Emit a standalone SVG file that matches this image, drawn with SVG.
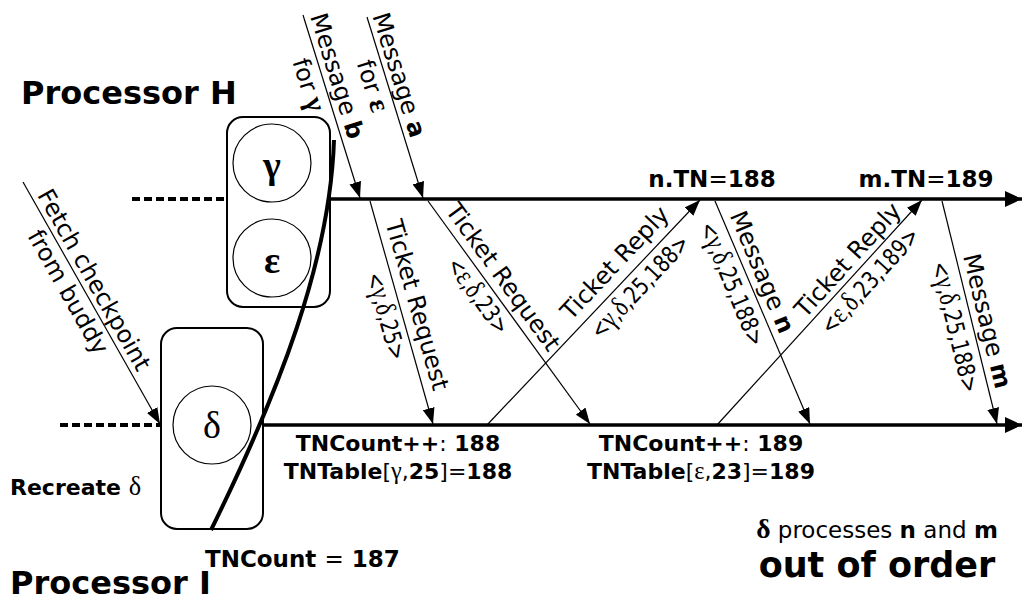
<svg xmlns="http://www.w3.org/2000/svg" width="1026" height="603" viewBox="0 0 1026 603">
<style>
  .box{fill:#fff;stroke:#000;stroke-width:2}
  .circ{fill:none;stroke:#000;stroke-width:1.2}
  .tl{stroke:#000;stroke-width:3.5;fill:none}
  .dash{stroke:#000;stroke-width:4;stroke-dasharray:8 4;fill:none}
  .thin{stroke:#000;stroke-width:1.2;fill:none;marker-end:url(#ah)}
  .curve{stroke:#000;stroke-width:4;fill:none}
  .sans{font-family:"DejaVu Sans","Liberation Sans",sans-serif;fill:#000}
  .b{font-weight:bold}
  .n{font-weight:normal}
  .gr{font-family:"Liberation Serif","DejaVu Serif",serif;font-size:1.2em}
  .gs{font-family:"Liberation Serif","DejaVu Serif",serif;font-size:1.1em;font-weight:normal}
  .lbl{font-family:"DejaVu Sans","Liberation Sans",sans-serif;font-size:24px;text-anchor:middle;fill:#000}
  .tup{font-family:"DejaVu Sans","Liberation Sans",sans-serif;font-size:24px;text-anchor:middle;fill:#000}
  .big{font-family:"Liberation Serif","DejaVu Serif",serif;font-size:38px;text-anchor:middle;fill:#000}
</style>
<defs>
  <marker id="ah" markerUnits="userSpaceOnUse" markerWidth="17" markerHeight="12" refX="16" refY="6" orient="auto">
    <path d="M0,0 L16,6 L0,12 z" fill="#000"/>
  </marker>
  <marker id="ahb" markerUnits="userSpaceOnUse" markerWidth="18" markerHeight="16" refX="17" refY="8" orient="auto">
    <path d="M0,0 L17,8 L0,16 z" fill="#000"/>
  </marker>
</defs>

<g id="timelines">
  <line class="dash" x1="132" y1="199" x2="227" y2="199"/>
  <line class="tl" x1="330" y1="199" x2="1022" y2="199" marker-end="url(#ahb)"/>
  <line class="dash" x1="60" y1="425" x2="161" y2="425"/>
  <line class="tl" x1="263" y1="425" x2="1022" y2="425" marker-end="url(#ahb)"/>
</g>

<g id="processor-H">
  <rect class="box" x="227" y="117" width="103" height="190" rx="16"/>
  <circle class="circ" cx="272" cy="163" r="39"/>
  <text class="big" x="272" y="178" font-weight="bold">γ</text>
  <circle class="circ" cx="272" cy="258" r="39"/>
  <text class="big" x="272" y="273" font-weight="bold">ε</text>
</g>

<g id="processor-I">
  <rect class="box" x="161" y="328" width="102" height="201" rx="16"/>
  <circle class="circ" cx="212" cy="425" r="39"/>
  <text class="big" x="212" y="438">δ</text>
</g>

<g id="migration">
  <path class="curve" d="M334,140 C330,260 280,390 211,530"/>
</g>

<g id="connectors">
  <line class="thin" x1="23" y1="182" x2="160" y2="424"/>
  <line class="thin" x1="303" y1="15" x2="360" y2="198"/>
  <line class="thin" x1="367" y1="17" x2="423" y2="198"/>
  <line class="thin" x1="370" y1="201" x2="433" y2="424"/>
  <line class="thin" x1="428" y1="201" x2="590" y2="424"/>
  <line class="thin" x1="487" y1="425" x2="700" y2="200"/>
  <line class="thin" x1="715" y1="201" x2="810" y2="424"/>
  <line class="thin" x1="717" y1="425" x2="922" y2="200"/>
  <line class="thin" x1="942" y1="201" x2="997" y2="424"/>
</g>

<g id="labels">
  <text class="sans b" x="21" y="104" font-size="32">Processor H</text>
  <text class="sans b" x="10" y="594" font-size="32">Processor I</text>

  <g transform="translate(94,280) rotate(60.5)"><text class="lbl" y="8">Fetch checkpoint</text></g>
  <g transform="translate(68,292) rotate(60.5)"><text class="lbl" y="8">from buddy</text></g>

  <g transform="translate(337,76) rotate(72.7)"><text class="lbl" y="8">Message <tspan font-weight="bold">b</tspan></text></g>
  <g transform="translate(308,85) rotate(72.7)"><text class="lbl" y="8">for <tspan class="gr" font-weight="bold">γ</tspan></text></g>
  <g transform="translate(399,75) rotate(72.7)"><text class="lbl" y="8">Message <tspan font-weight="bold">a</tspan></text></g>
  <g transform="translate(372,86) rotate(72.7)"><text class="lbl" y="8">for <tspan class="gr" font-weight="bold">ε</tspan></text></g>

  <g transform="translate(417,305) rotate(74.2)"><text class="lbl" y="8">Ticket Request</text></g>
  <g transform="translate(386,316) rotate(74.2)"><text class="tup" y="8" textLength="90" lengthAdjust="spacingAndGlyphs">&lt;<tspan class="gr">γ</tspan>,<tspan class="gr">δ</tspan>,25&gt;</text></g>

  <g transform="translate(503,277) rotate(54)"><text class="lbl" y="8">Ticket Request</text></g>
  <g transform="translate(478,296) rotate(54)"><text class="tup" y="8" textLength="88" lengthAdjust="spacingAndGlyphs">&lt;<tspan class="gr">ε</tspan>,<tspan class="gr">δ</tspan>,23&gt;</text></g>

  <g transform="translate(615,263) rotate(-46.7)"><text class="lbl" y="8">Ticket Reply</text></g>
  <g transform="translate(640,287) rotate(-46.7)"><text class="tup" y="8" textLength="132" lengthAdjust="spacingAndGlyphs">&lt;<tspan class="gr">γ</tspan>,<tspan class="gr">δ</tspan>,25,188&gt;</text></g>

  <g transform="translate(762,272) rotate(67.2)"><text class="lbl" y="8">Message <tspan font-weight="bold">n</tspan></text></g>
  <g transform="translate(732,284) rotate(67.2)"><text class="tup" y="8" textLength="132" lengthAdjust="spacingAndGlyphs">&lt;<tspan class="gr">γ</tspan>,<tspan class="gr">δ</tspan>,25,188&gt;</text></g>

  <g transform="translate(848,260) rotate(-47.8)"><text class="lbl" y="8">Ticket Reply</text></g>
  <g transform="translate(870,281) rotate(-47.8)"><text class="tup" y="8" textLength="134" lengthAdjust="spacingAndGlyphs">&lt;<tspan class="gr">ε</tspan>,<tspan class="gr">δ</tspan>,23,189&gt;</text></g>

  <g transform="translate(987,321) rotate(76.3)"><text class="lbl" y="8">Message <tspan font-weight="bold">m</tspan></text></g>
  <g transform="translate(955,327) rotate(76.3)"><text class="tup" y="8" textLength="134" lengthAdjust="spacingAndGlyphs">&lt;<tspan class="gr">γ</tspan>,<tspan class="gr">δ</tspan>,25,188&gt;</text></g>

  <text class="sans b" x="712" y="187" font-size="23" text-anchor="middle">n.TN<tspan class="n">=</tspan>188</text>
  <text class="sans b" x="926" y="187" font-size="23" text-anchor="middle">m.TN<tspan class="n">=</tspan>189</text>

  <text class="sans b" x="398" y="451" font-size="22" text-anchor="middle">TNCount++<tspan class="n">:</tspan> 188</text>
  <text class="sans b" x="398" y="479" font-size="22" text-anchor="middle">TNTable<tspan class="n">[</tspan><tspan class="gs">γ</tspan><tspan class="n">,</tspan>25<tspan class="n">]=</tspan>188</text>
  <text class="sans b" x="701" y="451" font-size="22" text-anchor="middle">TNCount++<tspan class="n">:</tspan> 189</text>
  <text class="sans b" x="701" y="479" font-size="22" text-anchor="middle">TNTable<tspan class="n">[</tspan><tspan class="gs">ε</tspan><tspan class="n">,</tspan>23<tspan class="n">]=</tspan>189</text>

  <text class="sans b" x="10" y="495" font-size="22">Recreate <tspan class="gr n">δ</tspan></text>
  <text class="sans b" x="205" y="567" font-size="23">TNCount <tspan class="n">=</tspan> 187</text>

  <text class="sans" x="877" y="538" font-size="23" text-anchor="middle"><tspan class="gr" font-weight="bold">δ</tspan> processes <tspan class="b">n</tspan> and <tspan class="b">m</tspan></text>
  <text class="sans b" x="877" y="577" font-size="35" text-anchor="middle">out of order</text>
</g>
</svg>
